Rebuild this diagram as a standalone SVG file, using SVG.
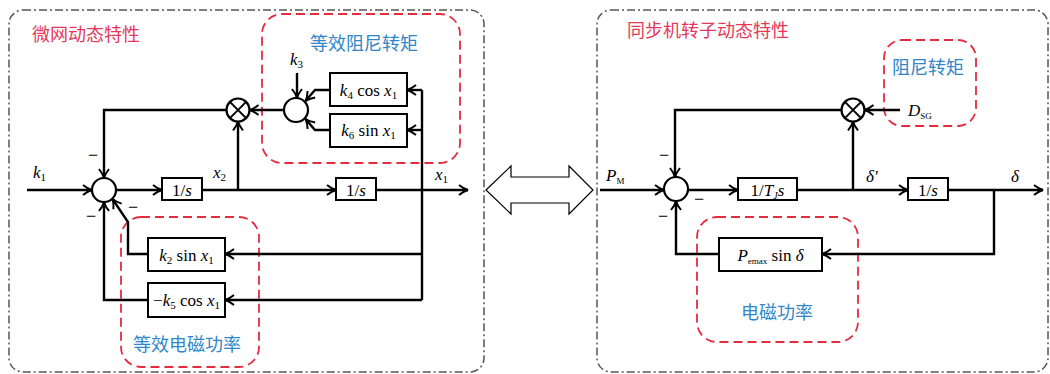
<svg xmlns="http://www.w3.org/2000/svg" width="1050" height="374" viewBox="0 0 1050 374">
  <style>
    .frame { fill: none; stroke: #555; stroke-width: 1.5; stroke-dasharray: 8 3 2 3; }
    .grp { fill: none; stroke: #e52b3e; stroke-width: 1.8; stroke-dasharray: 9 5; }
    .title { font-family: "Noto Sans CJK SC", sans-serif; font-size: 18px; fill: #e6375b; }
    .cap { font-family: "Noto Sans CJK SC", sans-serif; font-size: 18px; fill: #2f86c9; }
    .blk { fill: #fff; stroke: #000; stroke-width: 2; }
    .sum { fill: #fff; stroke: #000; stroke-width: 2.2; }
    .wire { fill: none; stroke: #000; stroke-width: 2.4; }
    .arr { marker-end: url(#ah); }
    .math { font-family: "Liberation Serif", "Times New Roman", "DejaVu Serif", serif; font-size: 17px; fill: #000; }
    .c { text-anchor: middle; }
    .i { font-style: italic; }
    .minus { font-family: "Liberation Serif", "DejaVu Serif", serif; font-size: 18px; text-anchor: middle; }
  </style>
  <defs>
    <marker id="ah" viewBox="-11 -7 13 14" refX="0" refY="0" markerWidth="13" markerHeight="14" markerUnits="userSpaceOnUse" orient="auto">
      <path d="M-9,-5 Q-4,-1 0,0 Q-4,1 -9,5" fill="none" stroke="#000" stroke-width="2"/>
    </marker>
  </defs>

  <!-- panel frames -->
  <rect class="frame" x="9" y="10" width="475" height="362" rx="14"/>
  <rect class="frame" x="597" y="10" width="451" height="362" rx="14"/>
  <text class="title" x="32" y="41">微网动态特性</text>
  <text class="title" x="627" y="37">同步机转子动态特性</text>

  <!-- highlighted sub-blocks -->
  <g id="grp-damping-eq">
    <rect class="grp" x="262" y="14" width="198" height="149" rx="20"/>
    <text class="cap" x="310" y="50">等效阻尼转矩</text>
  </g>
  <g id="grp-power-eq">
    <rect class="grp" x="121" y="217" width="138" height="150" rx="20"/>
    <text class="cap" x="133" y="351">等效电磁功率</text>
  </g>
  <g id="grp-damping">
    <rect class="grp" x="884" y="40" width="92" height="86" rx="18"/>
    <text class="cap" x="892" y="74">阻尼转矩</text>
  </g>
  <g id="grp-power">
    <rect class="grp" x="697" y="217" width="161" height="125" rx="20"/>
    <text class="cap" x="741" y="319">电磁功率</text>
  </g>

  <!-- equivalence arrow -->
  <g id="equiv">
    <polygon points="486,190 511,166 511,177 569,177 569,166 593,190 569,214 569,203 511,203 511,214" fill="#fff" stroke="#000" stroke-width="1.2"/>
  </g>

  <!-- connectors -->
  <g id="connectors">
    <!-- left panel -->
    <path class="wire arr" d="M27,190 H92"/>
    <path class="wire arr" d="M116,190 H162"/>
    <path class="wire arr" d="M202,190 H336"/>
    <path class="wire arr" d="M238,190 V121.5"/>
    <path class="wire arr" d="M376,190 H468"/>
    <path class="wire" d="M422,90 V300"/>
    <path class="wire arr" d="M422,90 H407"/>
    <path class="wire arr" d="M422,130 H407"/>
    <path class="wire arr" d="M422,254 H225"/>
    <path class="wire arr" d="M422,300 H225"/>
    <path class="wire arr" d="M330,90 H315 L305.5,101"/>
    <path class="wire arr" d="M330,130 H315 L305.5,119"/>
    <path class="wire arr" d="M297,73 V98"/>
    <path class="wire arr" d="M284,110 H249.5"/>
    <path class="wire arr" d="M226.5,110 H104 V178"/>
    <path class="wire arr" d="M148,254 H128 V222 L112.5,199"/>
    <path class="wire arr" d="M148,300 H104 V202"/>
    <!-- right panel -->
    <path class="wire arr" d="M600,190 H664"/>
    <path class="wire arr" d="M688,190 H738"/>
    <path class="wire arr" d="M797,190 H908"/>
    <path class="wire arr" d="M853,190 V121.5"/>
    <path class="wire arr" d="M948,190 H1043"/>
    <path class="wire arr" d="M994,190 V254 H822"/>
    <path class="wire arr" d="M719,254 H676 V201"/>
    <path class="wire arr" d="M900,110 H864.5"/>
    <path class="wire arr" d="M841.5,110 H675 V177"/>
  </g>

  <!-- left panel nodes -->
  <g id="sum-main">
    <circle class="sum" cx="104" cy="190" r="12"/>
  </g>
  <g id="sum-damp">
    <circle class="sum" cx="296" cy="110" r="12"/>
  </g>
  <g id="mul-left">
    <circle class="sum" cx="238" cy="110" r="11.5"/>
    <path class="wire" style="stroke-width:2" d="M229.9,101.9 L246.1,118.1 M246.1,101.9 L229.9,118.1"/>
  </g>
  <g id="int-1">
    <rect class="blk" x="162" y="178" width="40" height="22"/>
    <text class="math c" x="182" y="196">1/<tspan class="i">s</tspan></text>
  </g>
  <g id="int-2">
    <rect class="blk" x="336" y="178" width="40" height="22"/>
    <text class="math c" x="356" y="196">1/<tspan class="i">s</tspan></text>
  </g>
  <g id="blk-k4">
    <rect class="blk" x="330" y="73" width="77" height="33"/>
    <text class="math c" x="368.5" y="96"><tspan class="i">k</tspan><tspan font-size="11" dy="3">4</tspan><tspan dy="-3"> cos </tspan><tspan class="i">x</tspan><tspan font-size="11" dy="3">1</tspan></text>
  </g>
  <g id="blk-k6">
    <rect class="blk" x="330" y="114" width="77" height="33"/>
    <text class="math c" x="368.5" y="136"><tspan class="i">k</tspan><tspan font-size="11" dy="3">6</tspan><tspan dy="-3"> sin </tspan><tspan class="i">x</tspan><tspan font-size="11" dy="3">1</tspan></text>
  </g>
  <g id="blk-k2">
    <rect class="blk" x="148" y="238" width="77" height="33"/>
    <text class="math c" x="186.5" y="261"><tspan class="i">k</tspan><tspan font-size="11" dy="3">2</tspan><tspan dy="-3"> sin </tspan><tspan class="i">x</tspan><tspan font-size="11" dy="3">1</tspan></text>
  </g>
  <g id="blk-k5">
    <rect class="blk" x="148" y="283" width="77" height="34"/>
    <text class="math c" x="186.5" y="306">−<tspan class="i">k</tspan><tspan font-size="11" dy="3">5</tspan><tspan dy="-3"> cos </tspan><tspan class="i">x</tspan><tspan font-size="11" dy="3">1</tspan></text>
  </g>
  <g id="labels-left">
    <text class="math" x="33" y="178"><tspan class="i">k</tspan><tspan font-size="11" dy="3">1</tspan></text>
    <text class="math" x="290" y="65"><tspan class="i">k</tspan><tspan font-size="11" dy="3">3</tspan></text>
    <text class="math" x="213" y="178"><tspan class="i">x</tspan><tspan font-size="11" dy="3">2</tspan></text>
    <text class="math" x="435" y="180"><tspan class="i">x</tspan><tspan font-size="11" dy="3">1</tspan></text>
    <text class="minus" x="93" y="160.5">−</text>
    <text class="minus" x="133" y="212.5">−</text>
    <text class="minus" x="91" y="221.5">−</text>
  </g>

  <!-- right panel nodes -->
  <g id="sum-rotor">
    <circle class="sum" cx="676" cy="189" r="12"/>
  </g>
  <g id="mul-right">
    <circle class="sum" cx="853" cy="110" r="11.5"/>
    <path class="wire" style="stroke-width:2" d="M844.9,101.9 L861.1,118.1 M861.1,101.9 L844.9,118.1"/>
  </g>
  <g id="blk-inertia">
    <rect class="blk" x="738" y="178" width="59" height="22"/>
    <text class="math c" x="767.5" y="196">1/<tspan class="i">T</tspan><tspan class="i" font-size="10" dy="3">J</tspan><tspan class="i" dy="-3">s</tspan></text>
  </g>
  <g id="int-rotor">
    <rect class="blk" x="908" y="178" width="40" height="22"/>
    <text class="math c" x="928" y="196">1/<tspan class="i">s</tspan></text>
  </g>
  <g id="blk-pemax">
    <rect class="blk" x="719" y="238" width="103" height="33"/>
    <text class="math c" x="770.5" y="261"><tspan class="i">P</tspan><tspan font-size="9" dy="3">emax</tspan><tspan dy="-3"> sin </tspan><tspan class="i">δ</tspan></text>
  </g>
  <g id="labels-right">
    <text class="math" x="606" y="181"><tspan class="i">P</tspan><tspan font-size="9" dy="3">M</tspan></text>
    <text class="math" x="908" y="116"><tspan class="i">D</tspan><tspan font-size="9" dy="3">SG</tspan></text>
    <text class="math i" x="866" y="182">δ'</text>
    <text class="math i" x="1011" y="182">δ</text>
    <text class="minus" x="664" y="160.5">−</text>
    <text class="minus" x="699" y="204.5">−</text>
    <text class="minus" x="663" y="221.5">−</text>
  </g>
</svg>
